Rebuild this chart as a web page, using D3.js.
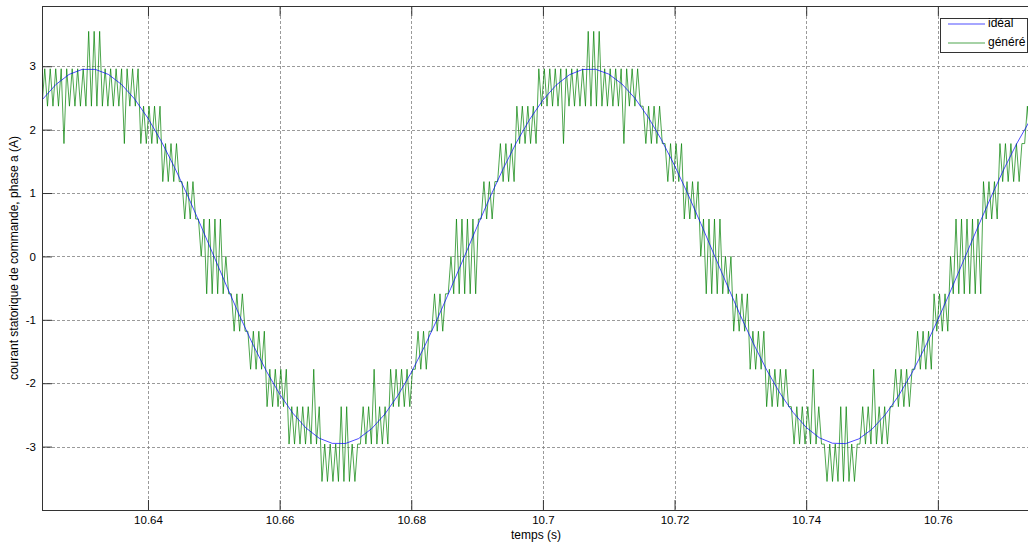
<!DOCTYPE html>
<html>
<head>
<meta charset="utf-8">
<script src="https://cdn.jsdelivr.net/npm/d3@7"></script>
<style>
  body { margin: 0; background: #fff; }
  text { font-family: "Liberation Sans", Arial, sans-serif; font-size: 12px; fill: #000; }
</style>
</head>
<body>
<svg id="chart" width="1028" height="542"></svg>
<script>
// tick labels
var xTicks = [10.64, 10.66, 10.68, 10.7, 10.72, 10.74, 10.76];
var yTicks = [-3, -2, -1, 0, 1, 2, 3];

// ideal current, one sample every 2 ms
var idealTime = [10.624, 10.626, 10.628, 10.630, 10.632, 10.634, 10.636, 10.638, 10.640, 10.642,
  10.644, 10.646, 10.648, 10.650, 10.652, 10.654, 10.656, 10.658, 10.660, 10.662,
  10.664, 10.666, 10.668, 10.670, 10.672, 10.674, 10.676, 10.678, 10.680, 10.682,
  10.684, 10.686, 10.688, 10.690, 10.692, 10.694, 10.696, 10.698, 10.700, 10.702,
  10.704, 10.706, 10.708, 10.710, 10.712, 10.714, 10.716, 10.718, 10.720, 10.722,
  10.724, 10.726, 10.728, 10.730, 10.732, 10.734, 10.736, 10.738, 10.740, 10.742,
  10.744, 10.746, 10.748, 10.750, 10.752, 10.754, 10.756, 10.758, 10.760, 10.762,
  10.764, 10.766, 10.768, 10.770, 10.772, 10.774];
var idealCurrent = [2.479, 2.711, 2.870, 2.950, 2.950, 2.870, 2.711, 2.479, 2.179, 1.821,
  1.413, 0.966, 0.493, 0.006, -0.480, -0.954, -1.402, -1.811, -2.171, -2.472,
  -2.706, -2.867, -2.949, -2.951, -2.873, -2.716, -2.486, -2.188, -1.831, -1.423,
  -0.977, -0.505, -0.019, 0.469, 0.943, 1.391, 1.802, 2.163, 2.466, 2.701,
  2.864, 2.948, 2.952, 2.876, 2.721, 2.493, 2.196, 1.841, 1.434, 0.989,
  0.517, 0.030, -0.456, -0.931, -1.380, -1.792, -2.155, -2.459, -2.697, -2.861,
  -2.947, -2.953, -2.878, -2.726, -2.499, -2.204, -1.850, -1.444, -1.000, -0.529,
  -0.043, 0.444, 0.919, 1.369, 1.782, 2.147];

// generated current: time spans where it chatters between two levels [t0, t1, low, high]
var greenBands = [
  [10.6239, 10.6303, 2.37, 2.96], [10.6303, 10.6328, 2.37, 3.55], [10.6328, 10.6388, 2.37, 2.96],
  [10.6388, 10.6422, 1.78, 2.37], [10.6422, 10.6450, 1.18, 1.78], [10.6450, 10.6476, 0.59, 1.18],
  [10.6476, 10.6485, 0, 0.59], [10.6485, 10.6515, -0.59, 0.59], [10.6515, 10.6525, -0.59, 0],
  [10.6525, 10.6550, -1.18, -0.59], [10.6550, 10.6578, -1.78, -1.18], [10.6578, 10.6613, -2.37, -1.78],
  [10.6613, 10.6664, -2.96, -2.37], [10.6664, 10.6686, -3.55, -2.96], [10.6686, 10.6706, -3.55, -2.37],
  [10.6706, 10.6719, -3.55, -2.96], [10.6719, 10.6768, -2.96, -2.37], [10.6768, 10.6803, -2.37, -1.78],
  [10.6803, 10.6831, -1.78, -1.18], [10.6831, 10.6856, -1.18, -0.59], [10.6856, 10.6862, -0.59, 0],
  [10.6862, 10.6905, -0.59, 0.59], [10.6905, 10.6931, 0.59, 1.18], [10.6931, 10.6959, 1.18, 1.78],
  [10.6959, 10.6993, 1.78, 2.37], [10.6993, 10.7062, 2.37, 2.96], [10.7062, 10.7090, 2.37, 3.55],
  [10.7090, 10.7149, 2.37, 2.96], [10.7149, 10.7183, 1.78, 2.37], [10.7183, 10.7211, 1.18, 1.78],
  [10.7211, 10.7237, 0.59, 1.18], [10.7237, 10.7246, 0, 0.59], [10.7246, 10.7276, -0.59, 0.59],
  [10.7276, 10.7286, -0.59, 0], [10.7286, 10.7311, -1.18, -0.59], [10.7311, 10.7339, -1.78, -1.18],
  [10.7339, 10.7374, -2.37, -1.78], [10.7374, 10.7425, -2.96, -2.37], [10.7425, 10.7447, -3.55, -2.96],
  [10.7447, 10.7467, -3.55, -2.37], [10.7467, 10.7480, -3.55, -2.96], [10.7480, 10.7529, -2.96, -2.37],
  [10.7529, 10.7564, -2.37, -1.78], [10.7564, 10.7592, -1.78, -1.18], [10.7592, 10.7617, -1.18, -0.59],
  [10.7617, 10.7623, -0.59, 0], [10.7623, 10.7666, -0.59, 0.59], [10.7666, 10.7691, 0.59, 1.18],
  [10.7691, 10.7728, 1.18, 1.78], [10.7728, 10.7745, 1.78, 2.37]
];
// isolated excursions to the next level [t, level]
var greenSpikes = [[10.6271, 1.78], [10.6360, 1.78], [10.6651, -1.78], [10.6742, -1.78],
  [10.7029, 1.78], [10.7120, 1.78], [10.7411, -1.78], [10.7502, -1.78]];
var switchStep = 0.000417; // half switching period (s)

var svg = d3.select('#chart');
var pLeft = 42, pTop = 6, pRight = 1030, pBottom = 510;

var x = d3.scaleLinear().domain([10.6239, 10.774]).range([pLeft, pRight]);
var y = d3.scaleLinear().domain([-4, 3.95]).range([pBottom, pTop]);

svg.append('defs').append('clipPath').attr('id', 'plot')
  .append('rect').attr('x', pLeft).attr('y', pTop).attr('width', pRight - pLeft).attr('height', pBottom - pTop);

// grid
var grid = svg.append('g').attr('stroke', '#808080').attr('stroke-width', 0.8).attr('stroke-dasharray', '3,2');
grid.selectAll('.gx').data(xTicks).enter().append('line')
  .attr('x1', function(d) { return Math.round(x(d)) + 0.5; })
  .attr('x2', function(d) { return Math.round(x(d)) + 0.5; })
  .attr('y1', pTop).attr('y2', pBottom);
grid.selectAll('.gy').data(yTicks).enter().append('line')
  .attr('y1', function(d) { return Math.round(y(d)) + 0.5; })
  .attr('y2', function(d) { return Math.round(y(d)) + 0.5; })
  .attr('x1', pLeft).attr('x2', pRight);

// generated signal
var greenPts = [];
var t0 = greenBands[0][0], t1 = greenBands[greenBands.length - 1][1];
var n = Math.floor((t1 - t0) / switchStep);
for (var i = 0; i <= n; i++) {
  var t = t0 + i * switchStep;
  var b = greenBands.find(function(d) { return t >= d[0] && t < d[1]; }) || greenBands[greenBands.length - 1];
  greenPts.push({ t: t, v: i % 2 ? b[3] : b[2], low: !(i % 2) });
}
greenSpikes.forEach(function(s) {
  var cands = greenPts.filter(function(d) { return d.low === (s[1] > 0); });
  var p = d3.least(cands, function(d) { return Math.abs(d.t - s[0]); });
  p.v = s[1];
});

var plot = svg.append('g').attr('clip-path', 'url(#plot)');

plot.append('path')
  .datum(greenPts)
  .attr('fill', 'none')
  .attr('stroke', '#008000')
  .attr('stroke-width', 0.7)
  .attr('d', d3.line().x(function(d) { return x(d.t); }).y(function(d) { return y(d.v); }));

plot.append('path')
  .datum(d3.zip(idealTime, idealCurrent))
  .attr('fill', 'none')
  .attr('stroke', '#0000ff')
  .attr('stroke-width', 0.7)
  .attr('d', d3.line().x(function(d) { return x(d[0]); }).y(function(d) { return y(d[1]); }));

// axes with inward ticks, plain hyphen for negatives like MATLAB
var axCol = '#333';
var fmt = function(d) { return String(d); };
var xAxis = svg.append('g').attr('transform', 'translate(0,' + pBottom + ')')
  .call(d3.axisBottom(x).tickValues(xTicks).tickSizeInner(-10).tickSizeOuter(0).tickPadding(6).tickFormat(fmt));
var xTop = svg.append('g').attr('transform', 'translate(0,' + pTop + ')')
  .call(d3.axisTop(x).tickValues(xTicks).tickSizeInner(-10).tickSizeOuter(0).tickFormat(''));
var yAxis = svg.append('g').attr('transform', 'translate(' + pLeft + ',0)')
  .call(d3.axisLeft(y).tickValues(yTicks).tickSizeInner(-10).tickSizeOuter(0).tickPadding(6).tickFormat(fmt));
[xAxis, xTop, yAxis].forEach(function(g) {
  g.select('.domain').remove();
  g.selectAll('line').attr('stroke', axCol);
  g.selectAll('text').style('font-family', '"Liberation Sans", Arial, sans-serif').style('font-size', '11.5px');
});

svg.append('rect')
  .attr('x', pLeft + 0.5).attr('y', pTop + 0.5)
  .attr('width', pRight - pLeft).attr('height', pBottom - pTop)
  .attr('fill', 'none').attr('stroke', axCol).attr('stroke-width', 1);

// axis titles
svg.append('text').attr('x', (pLeft + pRight) / 2).attr('y', 539).attr('text-anchor', 'middle').text('temps (s)');
svg.append('text').attr('transform', 'translate(15,' + (pTop + pBottom) / 2 + ') rotate(-90)')
  .attr('text-anchor', 'middle').attr('dominant-baseline', 'middle')
  .text('courant statorique de commande, phase a (A)');

// legend
var legend = svg.append('g');
var series = [{ name: 'idéal', color: '#0000ff' }, { name: 'généré', color: '#008000' }];
legend.append('rect').attr('x', 940.5).attr('y', 18.5).attr('width', 87).attr('height', 34)
  .attr('fill', '#fff').attr('stroke', axCol);
legend.selectAll('.li').data(series).enter().append('line')
  .attr('x1', 948).attr('x2', 985)
  .attr('y1', function(d, i) { return 24 + i * 19; })
  .attr('y2', function(d, i) { return 24 + i * 19; })
  .attr('stroke', function(d) { return d.color; }).attr('stroke-width', 0.7);
legend.selectAll('.lt').data(series).enter().append('text')
  .attr('x', 988)
  .attr('y', function(d, i) { return 24 + i * 19; })
  .attr('dominant-baseline', 'middle')
  .text(function(d) { return d.name; });
</script>
</body>
</html>
